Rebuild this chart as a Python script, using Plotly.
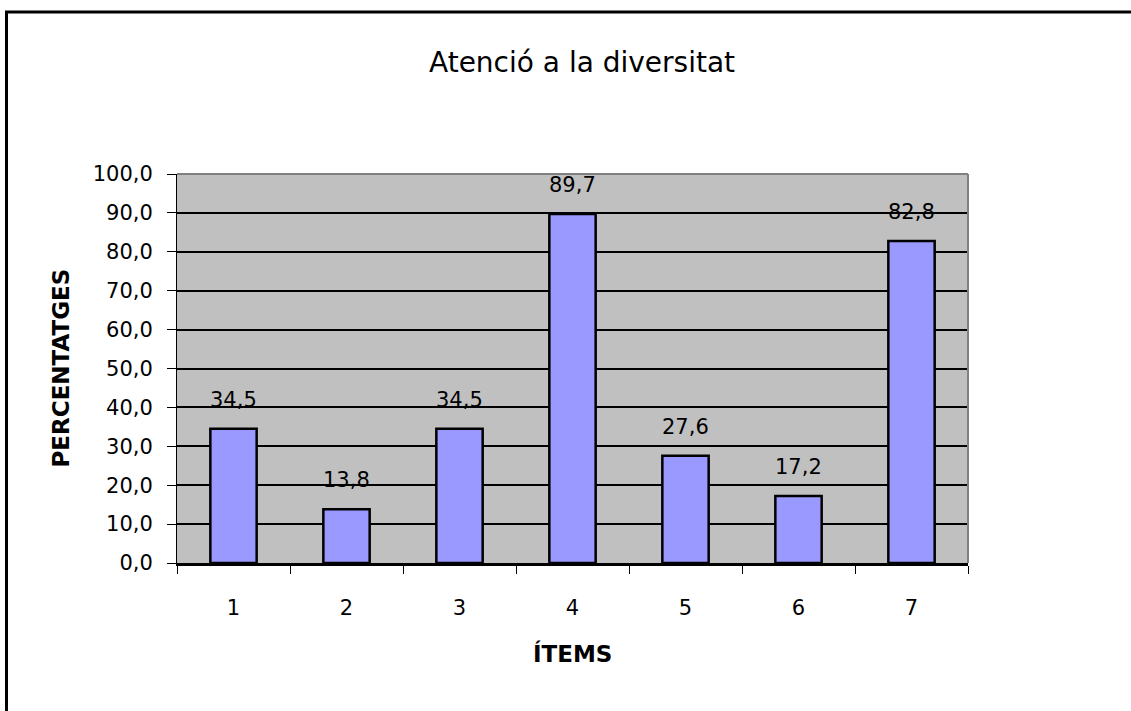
import plotly.graph_objects as go

# Percentatge per ítem
items = ["1", "2", "3", "4", "5", "6", "7"]
percentatges = [34.5, 13.8, 34.5, 89.7, 27.6, 17.2, 82.8]
y_ticks = [0, 10, 20, 30, 40, 50, 60, 70, 80, 90, 100]

FONT = "DejaVu Sans"

fig = go.Figure()
fig.add_trace(go.Bar(
    x=items,
    y=percentatges,
    marker=dict(color="#9999FF", line=dict(color="black", width=2.5)),
    width=0.41,
    hoverinfo="x+y",
))

# Value labels above each bar, with a decimal comma (category index positions)
for i, v in enumerate(percentatges):
    fig.add_annotation(
        x=i, y=v, xref="x", yref="y",
        text=f"{v:.1f}".replace(".", ","),
        showarrow=False, yanchor="bottom", yshift=15,
        font=dict(family=FONT, size=21, color="black"),
    )

# Title and axis titles
fig.add_annotation(
    x=0.512, y=(563 - 62) / 389, xref="paper", yref="paper",
    text="Atenció a la diversitat", showarrow=False,
    xanchor="center", yanchor="middle",
    font=dict(family=FONT, size=28, color="black"),
)
fig.add_annotation(
    x=0.5, y=(563 - 653) / 389, xref="paper", yref="paper",
    text="<b>ÍTEMS</b>", showarrow=False,
    xanchor="center", yanchor="middle",
    font=dict(family=FONT, size=23, color="black"),
)
fig.add_annotation(
    x=(60 - 177) / 791, y=0.5, xref="paper", yref="paper",
    text="<b>PERCENTATGES</b>", showarrow=False, textangle=-90,
    xanchor="center", yanchor="middle",
    font=dict(family=FONT, size=23, color="black"),
)

# Outer chart frame
fig.add_shape(
    type="rect", xref="paper", yref="paper",
    x0=(6.5 - 177) / 791, x1=1.4, y0=-0.6, y1=(563 - 12) / 389,
    line=dict(color="black", width=3), layer="below",
)
# Plot-area border on top and right
fig.add_shape(type="line", xref="x domain", yref="y domain",
              x0=0, x1=1, y0=1, y1=1, line=dict(color="#808080", width=2))
fig.add_shape(type="line", xref="x domain", yref="y domain",
              x0=1, x1=1, y0=0, y1=1, line=dict(color="#808080", width=2))

fig.update_layout(
    width=1131, height=711,
    margin=dict(l=177, r=163, t=174, b=148),
    paper_bgcolor="white",
    plot_bgcolor="#C0C0C0",
    separators=",.",
    showlegend=False,
    font=dict(family=FONT, size=21, color="black"),
    xaxis=dict(
        type="category",
        range=[-0.5, len(items) - 0.5],
        tickson="boundaries",
        ticks="outside", ticklen=8, tickwidth=1, tickcolor="black",
        showline=True, linecolor="black", linewidth=3,
        showgrid=False, zeroline=False,
        ticklabelstandoff=24,
        tickfont=dict(family=FONT, size=21),
    ),
    yaxis=dict(
        range=[0, 100],
        tickvals=y_ticks,
        tickformat=".1f",
        ticks="outside", ticklen=9, tickwidth=1, tickcolor="black",
        showline=True, linecolor="black", linewidth=1,
        showgrid=True, gridcolor="black", gridwidth=1.5,
        zeroline=False,
        ticklabelstandoff=10,
        tickfont=dict(family=FONT, size=21),
    ),
)

fig.write_html("out.html")
